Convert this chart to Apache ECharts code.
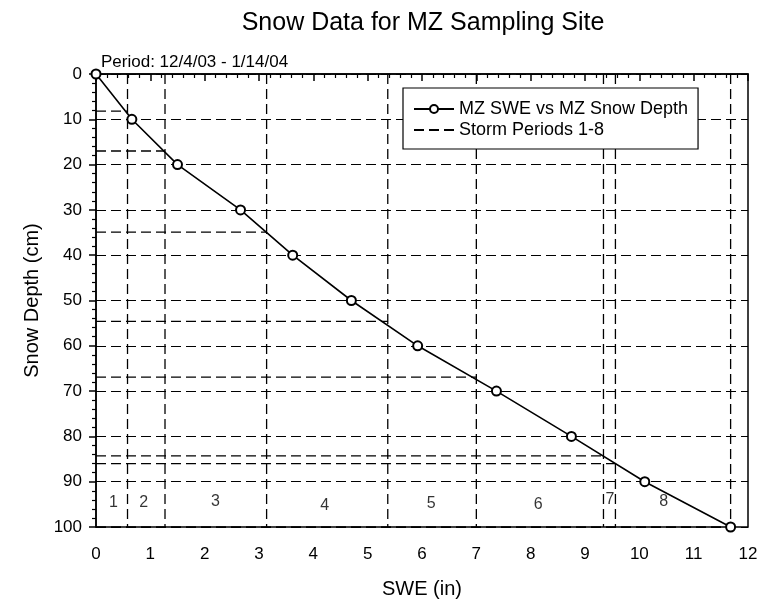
<!DOCTYPE html>
<html>
<head>
<meta charset="utf-8">
<script src="https://cdn.jsdelivr.net/npm/echarts@6/dist/echarts.min.js"></script>
<style>
  html, body { margin: 0; padding: 0; background: #fff; }
  #chart { width: 763px; height: 605px; }
</style>
</head>
<body>
<div id="chart"></div>
<script>
// MZ SWE (in) vs snow depth (cm)
const snowDepth = [0, 10, 20, 30, 40, 50, 60, 70, 80, 90, 100]
const swe = [0, 0.66, 1.50, 2.66, 3.62, 4.70, 5.92, 7.37, 8.75, 10.10, 11.68]

// storm period boundaries: swe where each period ends and the depth reached
const stormSwe = [0.58, 1.27, 3.14, 5.37, 7.0, 9.34, 9.56, 11.68]
const stormDepth = [8.2, 17.0, 34.9, 54.6, 66.9, 84.3, 86.0, 100]

// period number labels
const periodNames = ['1', '2', '3', '4', '5', '6', '7', '8']
const periodLabelSwe = [0.32, 0.88, 2.2, 4.21, 6.17, 8.14, 9.46, 10.45]
const periodLabelDepth = [94.6, 94.6, 94.3, 95.2, 94.9, 95.0, 94.0, 94.5]

const xTicks = [0, 12, 1]
const yTicks = [0, 100, 10]

const font = 'Liberation Sans, Arial, sans-serif'

const mainData = swe.map((v, i) => [v, snowDepth[i]])

// dashed storm lines, broken with '-' between segments
const stormData = []
stormSwe.forEach((s, i) => {
  stormData.push([0, stormDepth[i]], [s, stormDepth[i]], ['-', '-'])
  stormData.push([s, yTicks[0]], [s, yTicks[1]], ['-', '-'])
})

const labelData = periodNames.map((n, i) => [periodLabelSwe[i], periodLabelDepth[i], n])

const chart = echarts.init(document.getElementById('chart'), null, {renderer: 'canvas'})
chart.setOption({
  animation: false,
  textStyle: {fontFamily: font, color: '#000'},
  title: [
    {
      text: 'Snow Data for MZ Sampling Site',
      left: 423,
      top: 11,
      textAlign: 'center',
      padding: 0,
      textStyle: {fontSize: 25, fontWeight: 'normal', color: '#000', fontFamily: font}
    },
    {
      text: 'Period: 12/4/03 - 1/14/04',
      left: 101,
      top: 54,
      padding: 0,
      textStyle: {fontSize: 17, fontWeight: 'normal', color: '#000', fontFamily: font}
    }
  ],
  grid: {
    left: 96,
    right: 15,
    top: 74,
    bottom: 78,
    show: true,
    borderColor: '#000',
    borderWidth: 1.5
  },
  legend: {
    left: 403,
    top: 88,
    orient: 'vertical',
    padding: [12, 10, 10, 10],
    itemGap: 3,
    itemWidth: 40,
    itemHeight: 10,
    borderColor: '#000',
    borderWidth: 1.2,
    backgroundColor: '#fff',
    textStyle: {fontSize: 18, color: '#000', fontFamily: font},
    data: [
      {name: 'MZ SWE vs MZ Snow Depth'},
      {name: 'Storm Periods 1-8', itemStyle: {opacity: 0}}
    ]
  },
  xAxis: {
    type: 'value',
    min: xTicks[0],
    max: xTicks[1],
    interval: xTicks[2],
    name: 'SWE (in)',
    nameLocation: 'middle',
    nameGap: 52,
    nameTextStyle: {fontSize: 20, color: '#000'},
    axisLine: {lineStyle: {color: '#000', width: 1.5}},
    axisTick: {length: 7, lineStyle: {color: '#000', width: 1.5}},
    minorTick: {show: true, splitNumber: 5, length: 4, lineStyle: {color: '#000', width: 1.2}},
    axisLabel: {fontSize: 17, color: '#000', margin: 19},
    splitLine: {show: false}
  },
  yAxis: {
    type: 'value',
    inverse: true,
    min: yTicks[0],
    max: yTicks[1],
    interval: yTicks[2],
    name: 'Snow Depth (cm)',
    nameLocation: 'middle',
    nameGap: 54,
    nameTextStyle: {fontSize: 20, color: '#000'},
    axisLine: {lineStyle: {color: '#000', width: 1.5}},
    axisTick: {length: 7, lineStyle: {color: '#000', width: 1.5}},
    minorTick: {show: true, splitNumber: 5, length: 4, lineStyle: {color: '#000', width: 1.2}},
    axisLabel: {fontSize: 17, color: '#000', margin: 14},
    splitLine: {show: true, lineStyle: {color: '#000', width: 1.2, type: [10, 5]}}
  },
  series: [
    {
      name: 'Storm Periods 1-8',
      type: 'line',
      data: stormData,
      symbol: 'none',
      connectNulls: false,
      lineStyle: {color: '#000', width: 1.3, type: [10, 5]},
      itemStyle: {color: '#000'},
      z: 2
    },
    {
      name: 'MZ SWE vs MZ Snow Depth',
      type: 'line',
      data: mainData,
      symbol: 'emptyCircle',
      symbolSize: 9,
      lineStyle: {color: '#000', width: 1.6},
      itemStyle: {color: '#000', borderColor: '#000', borderWidth: 1.5},
      z: 3
    },
    {
      name: 'labels',
      type: 'scatter',
      data: labelData,
      symbolSize: 0,
      silent: true,
      label: {
        show: true,
        position: 'inside',
        formatter: p => p.value[2],
        fontSize: 16,
        color: '#000',
        fontFamily: font
      }
    }
  ]
})
</script>
</body>
</html>
